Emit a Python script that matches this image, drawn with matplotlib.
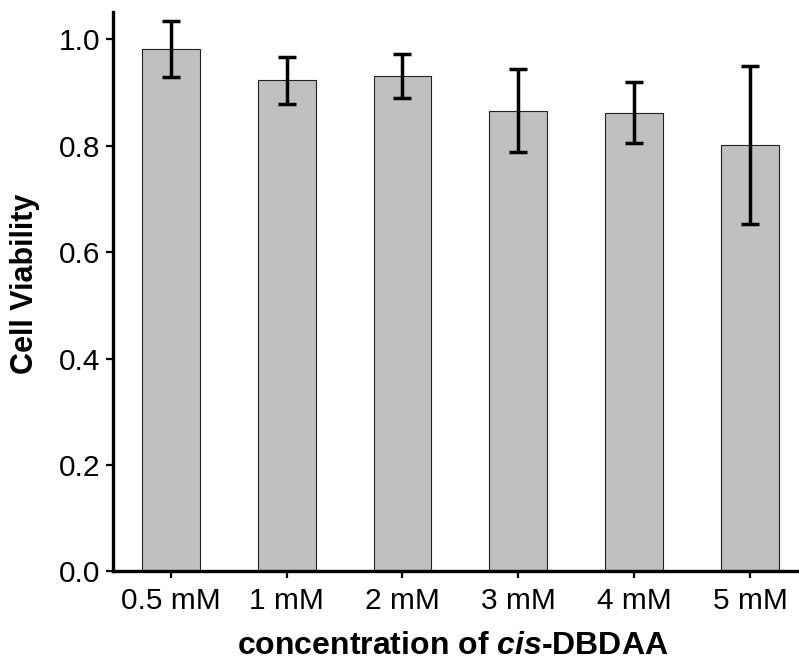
import numpy as np
import matplotlib
matplotlib.use('Agg')
import matplotlib.pyplot as plt

plt.rcParams['font.family'] = ['Liberation Sans', 'DejaVu Sans']
plt.rcParams['mathtext.fontset'] = 'custom'
plt.rcParams['mathtext.it'] = 'Liberation Sans:italic:bold'
plt.rcParams['mathtext.rm'] = 'Liberation Sans:bold'

# Cell viability vs. concentration (mean and error)
concentrations = ['0.5 mM', '1 mM', '2 mM', '3 mM', '4 mM', '5 mM']
viability = [0.982, 0.923, 0.931, 0.866, 0.862, 0.801]
viability_err = [0.053, 0.044, 0.041, 0.078, 0.057, 0.148]
yticks = [0.0, 0.2, 0.4, 0.6, 0.8, 1.0]

fig = plt.figure(figsize=(7.99, 6.64), dpi=100)
ax = fig.add_axes([0.141, 0.1396, 0.859, 0.8428])

x = np.arange(len(concentrations))
ax.bar(x, viability, width=0.5, color='#c0c0c0', edgecolor='#222222', linewidth=0.8, zorder=2)
eb = ax.errorbar(x, viability, yerr=viability_err, fmt='none', ecolor='black',
                 elinewidth=2.5, capsize=6.5, capthick=2.5, zorder=3)
for cap in eb[1]:
    cap.set_solid_capstyle('round')

ax.set_xlim(-0.5, 5.42)
ax.set_ylim(0, 1.052)
ax.set_xticks(x)
ax.set_xticklabels(concentrations)
ax.set_yticks(yticks)
ax.set_yticklabels(['%.1f' % v for v in yticks])

for side in ['top', 'right']:
    ax.spines[side].set_visible(False)
for side in ['left', 'bottom']:
    ax.spines[side].set_linewidth(2.4)
ax.tick_params(axis='both', direction='out', length=5, width=1.6, labelsize=21.5, pad=4)
ax.tick_params(axis='x', pad=6)

ax.set_ylabel('Cell Viability', fontsize=22, fontweight='bold', va='center')
ax.yaxis.set_label_coords(-0.127, 0.514)
ax.set_xlabel(r'concentration of $\it{cis}$-DBDAA', fontsize=23, fontweight='bold', va='center')
ax.xaxis.set_label_coords(0.496, -0.1335)

fig.savefig('out.png', dpi=100)
